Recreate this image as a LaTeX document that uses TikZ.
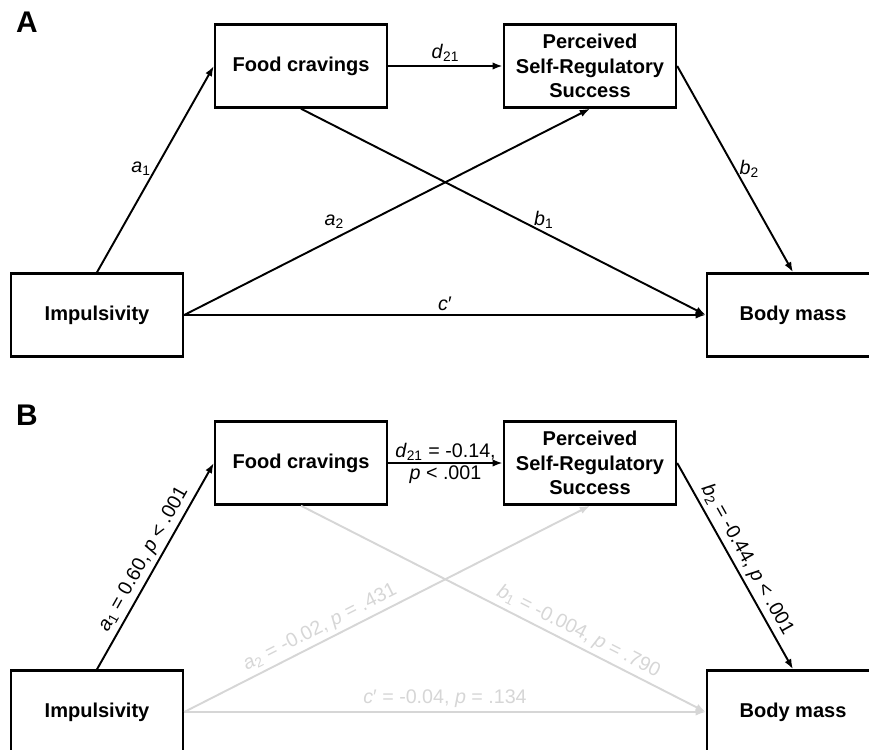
\documentclass[tikz,border=0pt]{standalone}
\usepackage{fontspec}
\setmainfont{Liberation Sans}
\usepackage{tikz}
\usetikzlibrary{arrows.meta}
\definecolor{faded}{RGB}{214,214,214}

\begin{document}
\begin{tikzpicture}[x=0.02cm, y=-0.02cm,
	varbox/.style={draw, line width=1.4pt, minimum width=3.44cm, minimum height=1.66cm, align=center, font=\fontsize{11.4}{13.9}\selectfont\bfseries},
	effect/.style={draw, line width=1.1pt, -{Latex[length=5.8pt, width=4.2pt]}},
	nseffect/.style={effect, faded},
	coef/.style={font=\fontsize{11.2}{13}\selectfont, inner sep=2pt},
	nscoef/.style={coef, text=faded},
	panel/.style={font=\fontsize{17}{18}\selectfont\bfseries}]
	\useasboundingbox (0,0) rectangle (869,750);

	% Panel A: nodes
	\node[panel] (labA) at (27, 22) {A};
	\node[varbox] (foodA) at (301, 66) {Food cravings};
	\node[varbox] (selfA) at (590, 66) {Perceived\\Self-Regulatory\\Success};
	\node[varbox] (impA) at (97, 315) {Impulsivity};
	\node[varbox] (bodyA) at (793, 315) {Body mass};

	% Panel A: paths
	\draw[effect] (impA.north) -- node[coef, left, pos=0.5] {\textit{a}\textsubscript{1}} (foodA.west);
	\draw[effect] (foodA) -- node[coef, above] {\textit{d}\textsubscript{21}} (selfA);
	\draw[effect] (impA.east) -- node[coef, above, pos=0.37, yshift=3pt] {\textit{a}\textsubscript{2}} (selfA.south);
	\draw[effect] (foodA.south) -- node[coef, above, pos=0.6] {\textit{b}\textsubscript{1}} (bodyA.west);
	\draw[effect] (impA.east) -- node[coef, above] {\textit{c}′} (bodyA.west);
	\draw[effect] (selfA.east) -- node[coef, right, pos=0.5] {\textit{b}\textsubscript{2}} (bodyA.north);

	% Panel B: nodes
	\node[panel] (labB) at (27, 415) {B};
	\node[varbox] (foodB) at (301, 463) {Food cravings};
	\node[varbox] (selfB) at (590, 463) {Perceived\\Self-Regulatory\\Success};
	\node[varbox] (impB) at (97, 712) {Impulsivity};
	\node[varbox] (bodyB) at (793, 712) {Body mass};

	% Panel B: paths with estimates
	\draw[nseffect] (impB.east) -- node[nscoef, sloped, above, pos=0.35] {\textit{a}\textsubscript{2} = -0.02, \textit{p} = .431} (selfB.south);
	\draw[nseffect] (foodB.south) -- node[nscoef, sloped, above, pos=0.67] {\textit{b}\textsubscript{1} = -0.004, \textit{p} = .790} (bodyB.west);
	\draw[nseffect] (impB.east) -- node[nscoef, above] {\textit{c}′ = -0.04, \textit{p} = .134} (bodyB.west);
	\draw[effect] (impB.north) -- node[coef, sloped, above, pos=0.5] {\textit{a}\textsubscript{1} = 0.60, \textit{p} < .001} (foodB.west);
	\draw[effect] (foodB) -- node[coef, above, inner sep=1pt] {\textit{d}\textsubscript{21} = -0.14,} node[coef, below, inner sep=1pt] {\textit{p} < .001} (selfB);
	\draw[effect] (selfB.east) -- node[coef, sloped, above, pos=0.5] {\textit{b}\textsubscript{2} = -0.44, \textit{p} < .001} (bodyB.north);
\end{tikzpicture}
\end{document}
